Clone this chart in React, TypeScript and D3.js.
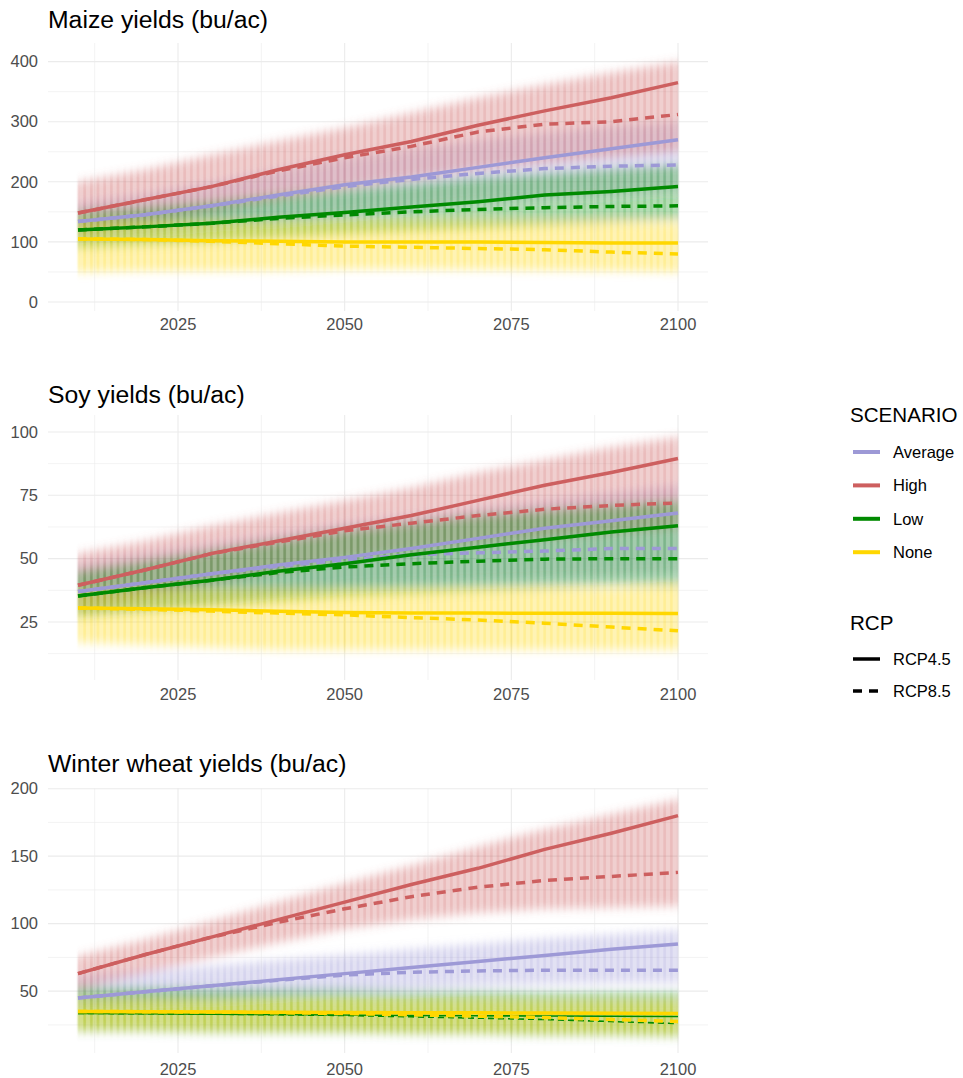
import React from 'react';
import * as d3 from 'd3';

// ---------- shared categories ----------
const years = [2010, 2020, 2030, 2040, 2050, 2060, 2070, 2080, 2090, 2100];
const scenarios = ['Average', 'High', 'Low', 'None'];
const rcps = ['RCP4.5', 'RCP8.5'];
const scenarioColors = ['#9d99d6', '#cd5f5f', '#008a00', '#ffd700'];
const xTicks = [2025, 2050, 2075, 2100];
const xMinorTicks = [2012.5, 2037.5, 2062.5, 2087.5];

// ---------- Maize ----------
const maizeTicks = [0, 100, 200, 300, 400];
const maizeMinor = [50, 150, 250, 350];
const maizeAvg45 = [134, 145, 160, 178, 195, 208, 224, 240, 255, 270];
const maizeAvg85 = [134, 145, 160, 176, 192, 204, 214, 222, 226, 228];
const maizeHigh45 = [148, 170, 192, 220, 245, 267, 294, 318, 340, 365];
const maizeHigh85 = [148, 170, 192, 218, 240, 259, 283, 296, 300, 312];
const maizeLow45 = [120, 125, 131, 141, 149, 158, 167, 178, 184, 192];
const maizeLow85 = [120, 125, 131, 139, 145, 150, 154, 157, 159, 160];
const maizeNone45 = [105, 104, 102, 101, 100, 100, 100, 99, 98, 98];
const maizeNone85 = [105, 104, 101, 97, 93, 91, 89, 87, 83, 80];
const maizeAvgHi = [165, 180, 198, 220, 240, 255, 270, 282, 292, 300];
const maizeAvgLo = [105, 115, 125, 135, 145, 155, 165, 172, 178, 185];
const maizeHighHi = [200, 220, 245, 268, 290, 315, 340, 362, 382, 400];
const maizeHighLo = [115, 130, 150, 170, 190, 205, 220, 230, 240, 250];
const maizeLowHi = [150, 158, 167, 178, 188, 198, 208, 215, 222, 228];
const maizeLowLo = [90, 95, 100, 107, 113, 118, 122, 127, 132, 135];
const maizeNoneHi = [135, 135, 135, 134, 134, 133, 133, 132, 132, 131];
const maizeNoneLo = [50, 52, 52, 53, 55, 55, 54, 53, 52, 50];

// ---------- Soy ----------
const soyTicks = [25, 50, 75, 100];
const soyMinor = [12.5, 37.5, 62.5, 87.5];
const soyAvg45 = [37, 40.5, 44, 47.5, 50.5, 54, 58, 62, 65, 68];
const soyAvg85 = [37, 40.5, 44, 47, 49.5, 51.5, 52.3, 53, 54, 54];
const soyHigh45 = [39.5, 45.5, 52, 57, 62, 67, 73, 79, 84, 89.5];
const soyHigh85 = [39.5, 45.5, 52, 56.5, 61, 64, 67, 69.5, 71, 72];
const soyLow45 = [35.3, 38.5, 41.5, 45, 48, 51.5, 54.5, 57.5, 60.5, 63];
const soyLow85 = [35.3, 38.5, 41.5, 44.5, 46.7, 48, 49, 49.8, 50, 50];
const soyNone45 = [30.5, 30.2, 29.8, 29.2, 28.7, 28.5, 28.5, 28.4, 28.4, 28.3];
const soyNone85 = [30.5, 30, 29.3, 28.5, 27.8, 26.7, 25.8, 24.5, 23, 21.5];
const soyAvgHi = [48, 52, 56, 60, 64, 67, 70, 73, 76, 79];
const soyAvgLo = [28, 30, 33, 36, 39, 40, 41, 42, 43, 44];
const soyHighHi = [52, 57, 63, 68, 73, 78, 84, 89, 94, 98];
const soyHighLo = [30, 35, 40, 45, 50, 53, 56, 58, 60, 62];
const soyLowHi = [45, 49, 53, 57, 61, 64, 67, 69, 71, 73];
const soyLowLo = [27, 29, 31, 33, 35, 36, 37, 38, 39, 39];
const soyNoneHi = [37, 38, 38, 38, 38, 38, 38, 38, 38, 39];
const soyNoneLo = [17, 16, 15, 14, 14, 14, 14, 14, 14, 14];

// ---------- Winter wheat ----------
const wheatTicks = [50, 100, 150, 200];
const wheatMinor = [25, 75, 125, 175];
const wheatAvg45 = [45, 49.5, 54, 58.5, 63, 67.5, 72, 76.5, 81, 85];
const wheatAvg85 = [45, 49.5, 54, 58, 62, 64, 65, 65.5, 65.5, 65.5];
const wheatHigh45 = [63, 77, 90, 103, 116, 129, 141, 155, 167, 180];
const wheatHigh85 = [63, 77, 90, 101, 111, 120, 127, 132, 135, 138];
const wheatLow45 = [33.5, 33.3, 33, 32.7, 32.3, 32, 31.8, 31.6, 31.4, 31.2];
const wheatLow85 = [33.5, 33.3, 33, 32.5, 32, 31, 30, 29, 27.5, 26];
const wheatNone45 = [35, 34.8, 34.6, 34.4, 34.2, 34, 34, 33.8, 33.7, 33.5];
const wheatNone85 = [35, 34.8, 34.5, 34, 33.5, 32.5, 31.5, 30.5, 29, 27.5];
const wheatAvgHi = [62, 65, 69, 73, 77, 81, 85, 89, 92, 95];
const wheatAvgLo = [38, 41, 44, 47, 50, 52, 54, 55, 56, 56];
const wheatHighHi = [76, 88, 102, 116, 130, 143, 157, 170, 181, 192];
const wheatHighLo = [52, 63, 75, 86, 96, 103, 108, 111, 112, 113];
const wheatLowHi = [53, 53, 52, 52, 52, 51, 51, 50, 50, 50];
const wheatLowLo = [20, 20, 19, 19, 19, 18, 18, 17, 17, 16];
const wheatNoneHi = [45, 45, 44, 44, 44, 43, 43, 42, 42, 42];
const wheatNoneLo = [22, 22, 21, 21, 21, 20, 20, 19, 19, 18];

const panels = [
  {
    title: 'Maize yields (bu/ac)', ticks: maizeTicks, minor: maizeMinor,
    lines: [[maizeAvg45, maizeAvg85], [maizeHigh45, maizeHigh85], [maizeLow45, maizeLow85], [maizeNone45, maizeNone85]],
    clouds: [[maizeAvgLo, maizeAvgHi], [maizeHighLo, maizeHighHi], [maizeLowLo, maizeLowHi], [maizeNoneLo, maizeNoneHi]],
    top: 43, bottom: 311, dMin: -15, dMax: 431, titleY: 28, xLabelY: 330, thinLow: false,
  },
  {
    title: 'Soy yields (bu/ac)', ticks: soyTicks, minor: soyMinor,
    lines: [[soyAvg45, soyAvg85], [soyHigh45, soyHigh85], [soyLow45, soyLow85], [soyNone45, soyNone85]],
    clouds: [[soyAvgLo, soyAvgHi], [soyHighLo, soyHighHi], [soyLowLo, soyLowHi], [soyNoneLo, soyNoneHi]],
    top: 415, bottom: 680, dMin: 2.1, dMax: 106.7, titleY: 403, xLabelY: 700, thinLow: false,
  },
  {
    title: 'Winter wheat yields (bu/ac)', ticks: wheatTicks, minor: wheatMinor,
    lines: [[wheatAvg45, wheatAvg85], [wheatHigh45, wheatHigh85], [wheatLow45, wheatLow85], [wheatNone45, wheatNone85]],
    clouds: [[wheatAvgLo, wheatAvgHi], [wheatHighLo, wheatHighHi], [wheatLowLo, wheatLowHi], [wheatNoneLo, wheatNoneHi]],
    top: 788, bottom: 1053, dMin: 4.2, dMax: 200.5, titleY: 772, xLabelY: 1075, thinLow: true,
  },
];

const FONT = "'Liberation Sans', Arial, Helvetica, sans-serif";

export default function App() {
  const x = d3.scaleLinear().domain([2005.5, 2104.5]).range([48, 708]);
  const step = x(2011) - x(2010);
  const grid = '#ebebeb';

  return (
    <svg width={963} height={1078} style={{ position: 'absolute', left: 0, top: 0, background: '#fff' }} fontFamily={FONT}>
      <defs>
        <filter id="vblur" x="-5%" y="-40%" width="110%" height="180%">
          <feGaussianBlur stdDeviation="1 5" />
        </filter>
        <pattern id="stripes" patternUnits="userSpaceOnUse" x={x(2010) - step / 2} y={0} width={step} height={20}>
          <rect width={step} height={20} fill="#fff" fillOpacity={0.7} />
          <rect x={step / 2 - 1.3} width={2.6} height={20} fill="#fff" />
        </pattern>
        <mask id="stripeMask" maskUnits="userSpaceOnUse" x={0} y={0} width={963} height={1078}>
          <rect width={963} height={1078} fill="url(#stripes)" />
        </mask>
        {panels.map((p, i) => (
          <clipPath id={`clip${i}`} key={i}>
            <rect x={x(2009.6)} y={p.top} width={x(2100.4) - x(2009.6)} height={p.bottom - p.top} />
          </clipPath>
        ))}
      </defs>

      {panels.map((p, pi) => {
        const y = d3.scaleLinear().domain([p.dMin, p.dMax]).range([p.bottom, p.top]);
        const line = d3.line<number>().x((_, i) => x(years[i])).y((d) => y(d));
        return (
          <g key={pi}>
            <text x={48} y={p.titleY} fontSize={24.75} fill="#000">{p.title}</text>
            {/* grid */}
            {p.minor.map((t) => (
              <line key={'ym' + t} x1={48} x2={708} y1={y(t)} y2={y(t)} stroke={grid} strokeWidth={0.6} />
            ))}
            {xMinorTicks.map((t) => (
              <line key={'xm' + t} x1={x(t)} x2={x(t)} y1={p.top} y2={p.bottom} stroke={grid} strokeWidth={0.6} />
            ))}
            {p.ticks.map((t) => (
              <line key={'y' + t} x1={48} x2={708} y1={y(t)} y2={y(t)} stroke={grid} strokeWidth={1.1} />
            ))}
            {xTicks.map((t) => (
              <line key={'x' + t} x1={x(t)} x2={x(t)} y1={p.top} y2={p.bottom} stroke={grid} strokeWidth={1.1} />
            ))}
            {/* tick labels */}
            {p.ticks.map((t) => (
              <text key={'yl' + t} x={38} y={y(t)} dy="0.35em" textAnchor="end" fontSize={16.5} fill="#4d4d4d">{t}</text>
            ))}
            {xTicks.map((t) => (
              <text key={'xl' + t} x={x(t)} y={p.xLabelY} textAnchor="middle" fontSize={16.5} fill="#4d4d4d">{t}</text>
            ))}
            {/* clouds */}
            <g clipPath={`url(#clip${pi})`}>
              <g mask="url(#stripeMask)">
                <g filter="url(#vblur)">
                  {p.clouds.map(([lo, hi], si) => {
                    const area = d3.area<number>()
                      .x((_, i) => x(years[i]))
                      .y0((_, i) => y(lo[i]))
                      .y1((_, i) => y(hi[i]));
                    return <path key={si} d={area(lo) || ''} fill={scenarioColors[si]} fillOpacity={0.42} />;
                  })}
                </g>
              </g>
            </g>
            {/* mean lines */}
            {p.lines.map((pair, si) =>
              pair.map((vals, ri) => {
                const thin = p.thinLow && si === 2;
                return (
                  <path
                    key={si + '-' + ri}
                    d={line(vals) || ''}
                    fill="none"
                    stroke={scenarioColors[si]}
                    strokeWidth={thin ? 1.6 : 3.5}
                    strokeDasharray={ri === 1 ? (thin ? '6,4' : '9,7') : undefined}
                    strokeLinejoin="round"
                  />
                );
              })
            )}
          </g>
        );
      })}

      {/* legend */}
      <g>
        <text x={850} y={422} fontSize={20.6} fill="#000">SCENARIO</text>
        {scenarios.map((s, i) => (
          <g key={s}>
            <line x1={853} x2={880} y1={452 + i * 33.4} y2={452 + i * 33.4} stroke={scenarioColors[i]} strokeWidth={4} />
            <text x={893} y={452 + i * 33.4} dy="0.35em" fontSize={16.5} fill="#000">{s}</text>
          </g>
        ))}
        <text x={850} y={630} fontSize={20.6} fill="#000">RCP</text>
        {rcps.map((r, i) => (
          <g key={r}>
            <line x1={853} x2={880} y1={659 + i * 32} y2={659 + i * 32} stroke="#000" strokeWidth={3.5}
              strokeDasharray={i === 1 ? '9,7' : undefined} />
            <text x={893} y={659 + i * 32} dy="0.35em" fontSize={16.5} fill="#000">{r}</text>
          </g>
        ))}
      </g>
    </svg>
  );
}
